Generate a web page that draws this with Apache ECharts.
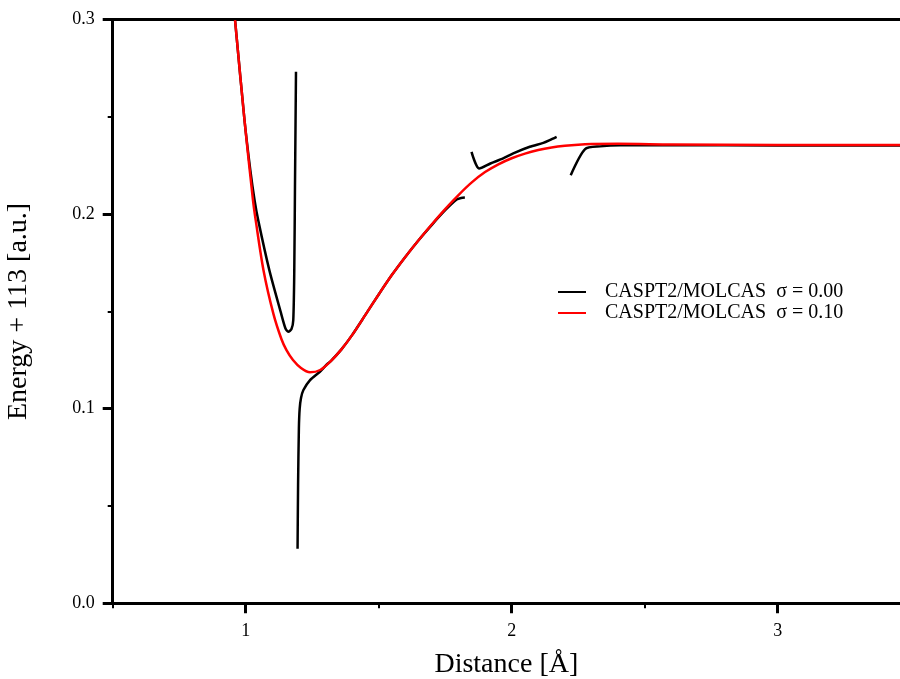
<!DOCTYPE html>
<html>
<head>
<meta charset="utf-8">
<script src="https://cdn.jsdelivr.net/npm/echarts@6/dist/echarts.min.js"></script>
<style>html,body{margin:0;padding:0;background:#fff}#c{width:900px;height:679px}</style>
</head>
<body>
<div id="c"></div>
<script>
// ---- data ----
const nameBlack = 'CASPT2/MOLCAS  \u03c3 = 0.00';
const nameRed = 'CASPT2/MOLCAS  \u03c3 = 0.10';

const blackSeg1 = [[0.960,0.2997],[0.9955,0.2483],[1.0175,0.2225],[1.0334,0.2072],[1.047,0.1969],[1.0889,0.1712],[1.131,0.1500],[1.1496,0.1412],[1.1602,0.1395],[1.1722,0.1409],[1.1789,0.1455],[1.1827,0.1712],[1.1853,0.2140],[1.1891,0.2731]];
const blackSeg2 = [[1.195,0.028],[1.197,0.0616],[1.200,0.090],[1.203,0.100],[1.208,0.1055],[1.217,0.1096],[1.242,0.1147],[1.279,0.1190],[1.304,0.1226],[1.32,0.1245],[1.36,0.1305],[1.40,0.1378],[1.45,0.1482],[1.50,0.1587],[1.55,0.1688],[1.60,0.1780],[1.65,0.1866],[1.70,0.1945],[1.75,0.2020],[1.793,0.2075],[1.81,0.2083],[1.824,0.2085]];
const blackSeg3 = [[1.849,0.232],[1.878,0.2234],[1.92,0.2260],[1.968,0.2286],[2.006,0.2312],[2.068,0.2346],[2.119,0.2366],[2.143,0.2380],[2.169,0.2397]];
const blackSeg4 = [[2.222,0.220],[2.276,0.2334],[2.332,0.2348],[2.408,0.2354],[2.6,0.2354],[3.0,0.2353],[3.46,0.2353]];

const redX = [0.960,0.9955,1.0274,1.0376,1.0669,1.1045,1.1346,1.1534,1.1778,1.2079,1.2417,1.28,1.32,1.36,1.40,1.45,1.50,1.55,1.60,1.65,1.70,1.75,1.80,1.85,1.90,1.95,2.00,2.05,2.10,2.15,2.20,2.25,2.30,2.40,2.60,3.00,3.46];
const redY = [0.2997,0.2483,0.2072,0.1969,0.1712,0.1486,0.1357,0.1301,0.1250,0.1209,0.1187,0.1199,0.1245,0.1305,0.1378,0.1482,0.1587,0.1688,0.1780,0.1866,0.1948,0.2026,0.2098,0.2163,0.2216,0.2256,0.2287,0.2311,0.2329,0.2342,0.2351,0.2357,0.2360,0.2361,0.2358,0.2355,0.2355];

const xMajorTicks = [1,2,3];
const xMinorTicks = [0.5,1.5,2.5];

// ---- chart ----
const FONT = '"Liberation Serif","DejaVu Serif",serif';
const chart = echarts.init(document.getElementById('c'), null, {renderer:'canvas'});
const blackLine = {width:2.5, color:'#000'};
function blackSeries(d){
  return {name:nameBlack, type:'line', xAxisIndex:0, yAxisIndex:0, data:d, showSymbol:false, symbol:'none', smooth:0.25, lineStyle:blackLine, itemStyle:{color:'#000'}, z:2};
}
chart.setOption({
  animation:false,
  backgroundColor:'#fff',
  grid:{left:112.7, right:0, top:19.5, bottom:75.7, containLabel:false, outerBoundsMode:'none'},
  legend:{
    orient:'vertical', left:553, top:277, itemWidth:28, itemHeight:14, itemGap:1,
    data:[{name:nameBlack, icon:'path://M0,0 L28,0 L28,2 L0,2 Z', itemStyle:{color:'#000'}},{name:nameRed, icon:'path://M0,0 L28,0 L28,2 L0,2 Z', itemStyle:{color:'#ff0000'}}],
    textStyle:{fontFamily:FONT, fontSize:20, lineHeight:20, color:'#000', padding:[0,0,0,14]},
    selectedMode:false
  },
  xAxis:[
    {type:'value', min:0.5, max:3.46, position:'bottom',
     axisLine:{show:true, onZero:false, lineStyle:{color:'#000', width:3}},
     axisTick:{show:true, customValues:xMajorTicks, length:10, lineStyle:{color:'#000', width:3}},
     axisLabel:{customValues:xMajorTicks, fontFamily:FONT, fontSize:18, color:'#000', margin:19},
     splitLine:{show:false},
     name:'Distance [\u00c5]', nameLocation:'middle', nameGap:47,
     nameTextStyle:{fontFamily:FONT, fontSize:28, color:'#000'}},
    {type:'value', min:0.5, max:3.46, position:'bottom',
     axisLine:{show:false},
     axisTick:{show:true, customValues:xMinorTicks, length:5, lineStyle:{color:'#000', width:2}},
     axisLabel:{show:false}, splitLine:{show:false}},
    {type:'value', min:0.5, max:3.46, position:'top',
     axisLine:{show:true, onZero:false, lineStyle:{color:'#000', width:3}},
     axisTick:{show:false}, axisLabel:{show:false}, splitLine:{show:false}}
  ],
  yAxis:[
    {type:'value', min:0, max:0.3, interval:0.1,
     axisLine:{show:true, onZero:false, lineStyle:{color:'#000', width:3}},
     axisTick:{show:true, length:10, lineStyle:{color:'#000', width:3}},
     minorTick:{show:true, splitNumber:2, length:5, lineStyle:{color:'#000', width:2}},
     axisLabel:{fontFamily:FONT, fontSize:18, color:'#000', margin:18, formatter:v=>v.toFixed(1)},
     splitLine:{show:false}, minorSplitLine:{show:false},
     name:'Energy + 113 [a.u.]', nameLocation:'middle', nameGap:80, nameRotate:90,
     nameTextStyle:{fontFamily:FONT, fontSize:28, color:'#000'}}
  ],
  series:[
    blackSeries(blackSeg1),
    blackSeries(blackSeg2),
    blackSeries(blackSeg3),
    blackSeries(blackSeg4),
    {name:nameRed, type:'line', xAxisIndex:0, yAxisIndex:0,
     data:redX.map((x,i)=>[x,redY[i]]), showSymbol:false, symbol:'none', smooth:0.3,
     lineStyle:{width:2.5, color:'#ff0000'}, itemStyle:{color:'#ff0000'}, z:3}
  ]
});
</script>
</body>
</html>
